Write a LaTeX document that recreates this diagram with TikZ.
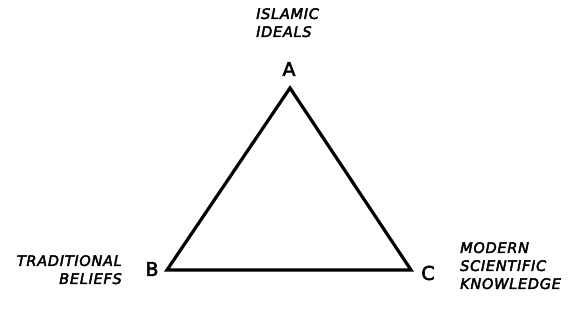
\documentclass[tikz,border=0pt]{standalone}
\usepackage{fontspec}
\setmainfont{DejaVu Sans}
\newfontfamily\lblfont[LetterSpace=5,FakeBold=3]{DejaVu Sans}
\newfontfamily\vfont[FakeBold=3]{DejaVu Sans}
\begin{document}
\begin{tikzpicture}[x=1pt,y=-1pt,
  vlabel/.style={font=\vfont\fontsize{19}{19}\selectfont, inner sep=0pt},
  concept/.style={font=\lblfont\itshape\fontsize{14.5}{18}\selectfont, inner sep=0pt},
  side/.style={line width=3.2pt, line join=miter}]
\useasboundingbox (0,0) rectangle (582,328);
\coordinate (A) at (290,88);
\coordinate (B) at (167,270);
\coordinate (C) at (411,270);
\draw[side] (A) -- (B) -- (C) -- cycle;
\node[vlabel] (la) at (289,69) {A};
\node[vlabel] (lb) at (152,269) {B};
\node[vlabel] (lc) at (428,273) {C};
\node[concept, align=left, anchor=north west] (ideals) at (256,8) {ISLAMIC\\IDEALS};
\node[concept, align=right, anchor=north east] (beliefs) at (122,255) {TRADITIONAL\\BELIEFS};
\node[concept, align=left, anchor=north west] (modern) at (460,242) {MODERN\\SCIENTIFIC\\KNOWLEDGE};
\end{tikzpicture}
\end{document}
